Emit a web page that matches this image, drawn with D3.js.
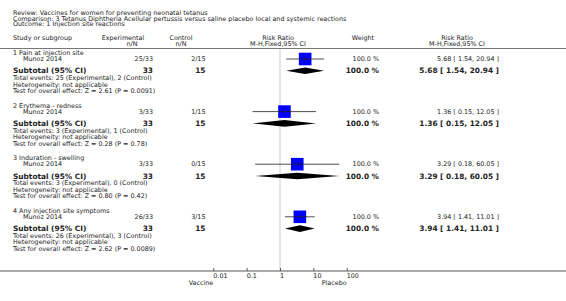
<!DOCTYPE html>
<html><head><meta charset="utf-8">
<script src="https://cdn.jsdelivr.net/npm/d3@7"></script>
<style>body{margin:0;background:#fff}svg{display:block}text{font-family:"DejaVu Sans",sans-serif;fill:#222}</style>
</head><body>
<svg id="c" width="566" height="301"></svg>
<script>
const headerLines = ["Review:  Vaccines for women for preventing neonatal tetanus",
  "Comparison:  3 Tetanus Diphtheria Acellular pertussis versus saline placebo local and systemic reactions",
  "Outcome:  1 Injection site reactions"];
const groups = ["1 Pain at injection site","2 Erythema - redness","3 Induration - swelling","4 Any injection site symptoms"];
const studies = ["Munoz 2014","Munoz 2014","Munoz 2014","Munoz 2014"];
const expEvents = [25,3,3,26];
const expN = [33,33,33,33];
const ctrlEvents = [2,1,0,3];
const ctrlN = [15,15,15,15];
const rr = [5.68,1.36,3.29,3.94];
const lo = [1.54,0.15,0.18,1.41];
const hi = [20.94,12.05,60.05,11.01];
const weights = [100,100,100,100];
const zVals = ["2.61","0.28","0.80","2.62"];
const pVals = ["0.0091","0.78","0.42","0.0089"];
const ticks = [0.01,0.1,1,10,100];
const tickLabels = ["0.01","0.1","1","10","100"];

const svg = d3.select("#c");
const x = d3.scaleLog().domain([0.01,100]).range([213.3,346.7]);
const fs = 6.4, fb = 7.4;

function txt(s, px, py, opt={}) {
  return svg.append("text").attr("x",px).attr("y",py).attr("dy","0.35em")
    .attr("font-size", opt.size||fs).attr("font-weight", opt.bold?"bold":"normal")
    .attr("text-anchor", opt.anchor||"start").style("fill", opt.fill||"#222").text(s);
}

headerLines.forEach((s,i)=>txt(s,13,12.5+i*5.8));
txt("Study or subgroup",13,38);
txt("Experimental",123,38,{anchor:"middle"});
txt("n/N",132,44,{anchor:"middle"});
txt("Control",181,38,{anchor:"middle"});
txt("n/N",181,44,{anchor:"middle"});
txt("Risk Ratio",278,38,{anchor:"middle"});
txt("M-H,Fixed,95% CI",278,44,{anchor:"middle"});
txt("Weight",363,38,{anchor:"middle"});
txt("Risk Ratio",457,38,{anchor:"middle"});
txt("M-H,Fixed,95% CI",457,44,{anchor:"middle"});

svg.append("line").attr("x1",0).attr("x2",566).attr("y1",48.5).attr("y2",48.5)
  .attr("stroke","#777").attr("stroke-width",1);

// null line
svg.append("line").attr("x1",x(1)).attr("x2",x(1)).attr("y1",49).attr("y2",271)
  .attr("stroke","#ddd").attr("stroke-width",1.5);

const f2 = v=>v.toFixed(2);
groups.forEach((g,i)=>{
  const t = 52.8 + i*52.6;
  const ys = t+6.2, yt = t+18;
  txt(g,13,t);
  txt(studies[i],23,ys);
  txt(expEvents[i]+"/"+expN[i],153,ys,{anchor:"end"});
  txt(ctrlEvents[i]+"/"+ctrlN[i],205.5,ys,{anchor:"end"});
  txt(weights[i].toFixed(1)+" %",379,ys,{anchor:"end"});
  txt(f2(rr[i])+" [ "+f2(lo[i])+", "+f2(hi[i])+" ]",499,ys,{anchor:"end"});
  // square
  const sz = 12.6;
  svg.append("rect").attr("x",x(rr[i])-sz/2).attr("y",ys-sz/2).attr("width",sz).attr("height",sz)
    .attr("fill","#0000ff");
  svg.append("line").attr("x1",x(lo[i])).attr("x2",x(hi[i])).attr("y1",ys).attr("y2",ys)
    .attr("stroke","#222").attr("stroke-width",0.8);
  svg.append("line").attr("x1",x(rr[i])).attr("x2",x(rr[i])).attr("y1",ys-2).attr("y2",ys+2)
    .attr("stroke","#222").attr("stroke-width",0.8);
  // subtotal
  txt("Subtotal (95% CI)",13,yt,{bold:true,size:fb});
  txt(String(expN[i]),153,yt,{bold:true,size:fb,anchor:"end"});
  txt(String(ctrlN[i]),205.5,yt,{bold:true,size:fb,anchor:"end"});
  txt(weights[i].toFixed(1)+" %",379,yt,{bold:true,size:fb,anchor:"end"});
  txt(f2(rr[i])+" [ "+f2(lo[i])+", "+f2(hi[i])+" ]",499,yt,{bold:true,size:fb,anchor:"end"});
  const h = 3.3;
  svg.append("path").attr("d",`M${x(lo[i])},${yt} L${x(rr[i])},${yt-h} L${x(hi[i])},${yt} L${x(rr[i])},${yt+h} Z`)
    .attr("fill","#000");
  txt(`Total events: ${expEvents[i]} (Experimental), ${ctrlEvents[i]} (Control)`,13,t+25);
  txt("Heterogeneity: not applicable",13,t+31.5);
  txt(`Test for overall effect: Z = ${zVals[i]} (P = ${pVals[i]})`,13,t+38);
});

// axis
svg.append("line").attr("x1",0).attr("x2",566).attr("y1",271).attr("y2",271)
  .attr("stroke","#555").attr("stroke-width",1);
const axis = d3.axisTop(x).tickValues(ticks).tickSize(3).tickFormat("");
const ag = svg.append("g").attr("transform","translate(0,271)").call(axis);
ag.select(".domain").remove();
ag.selectAll(".tick line").attr("stroke","#555");
ticks.forEach((v,i)=>txt(tickLabels[i],x(v),276));
txt("Vaccine",x(0.01),282.5,{anchor:"end"});
txt("Placebo",x(100),282.5,{anchor:"end"});
</script>
</body></html>
